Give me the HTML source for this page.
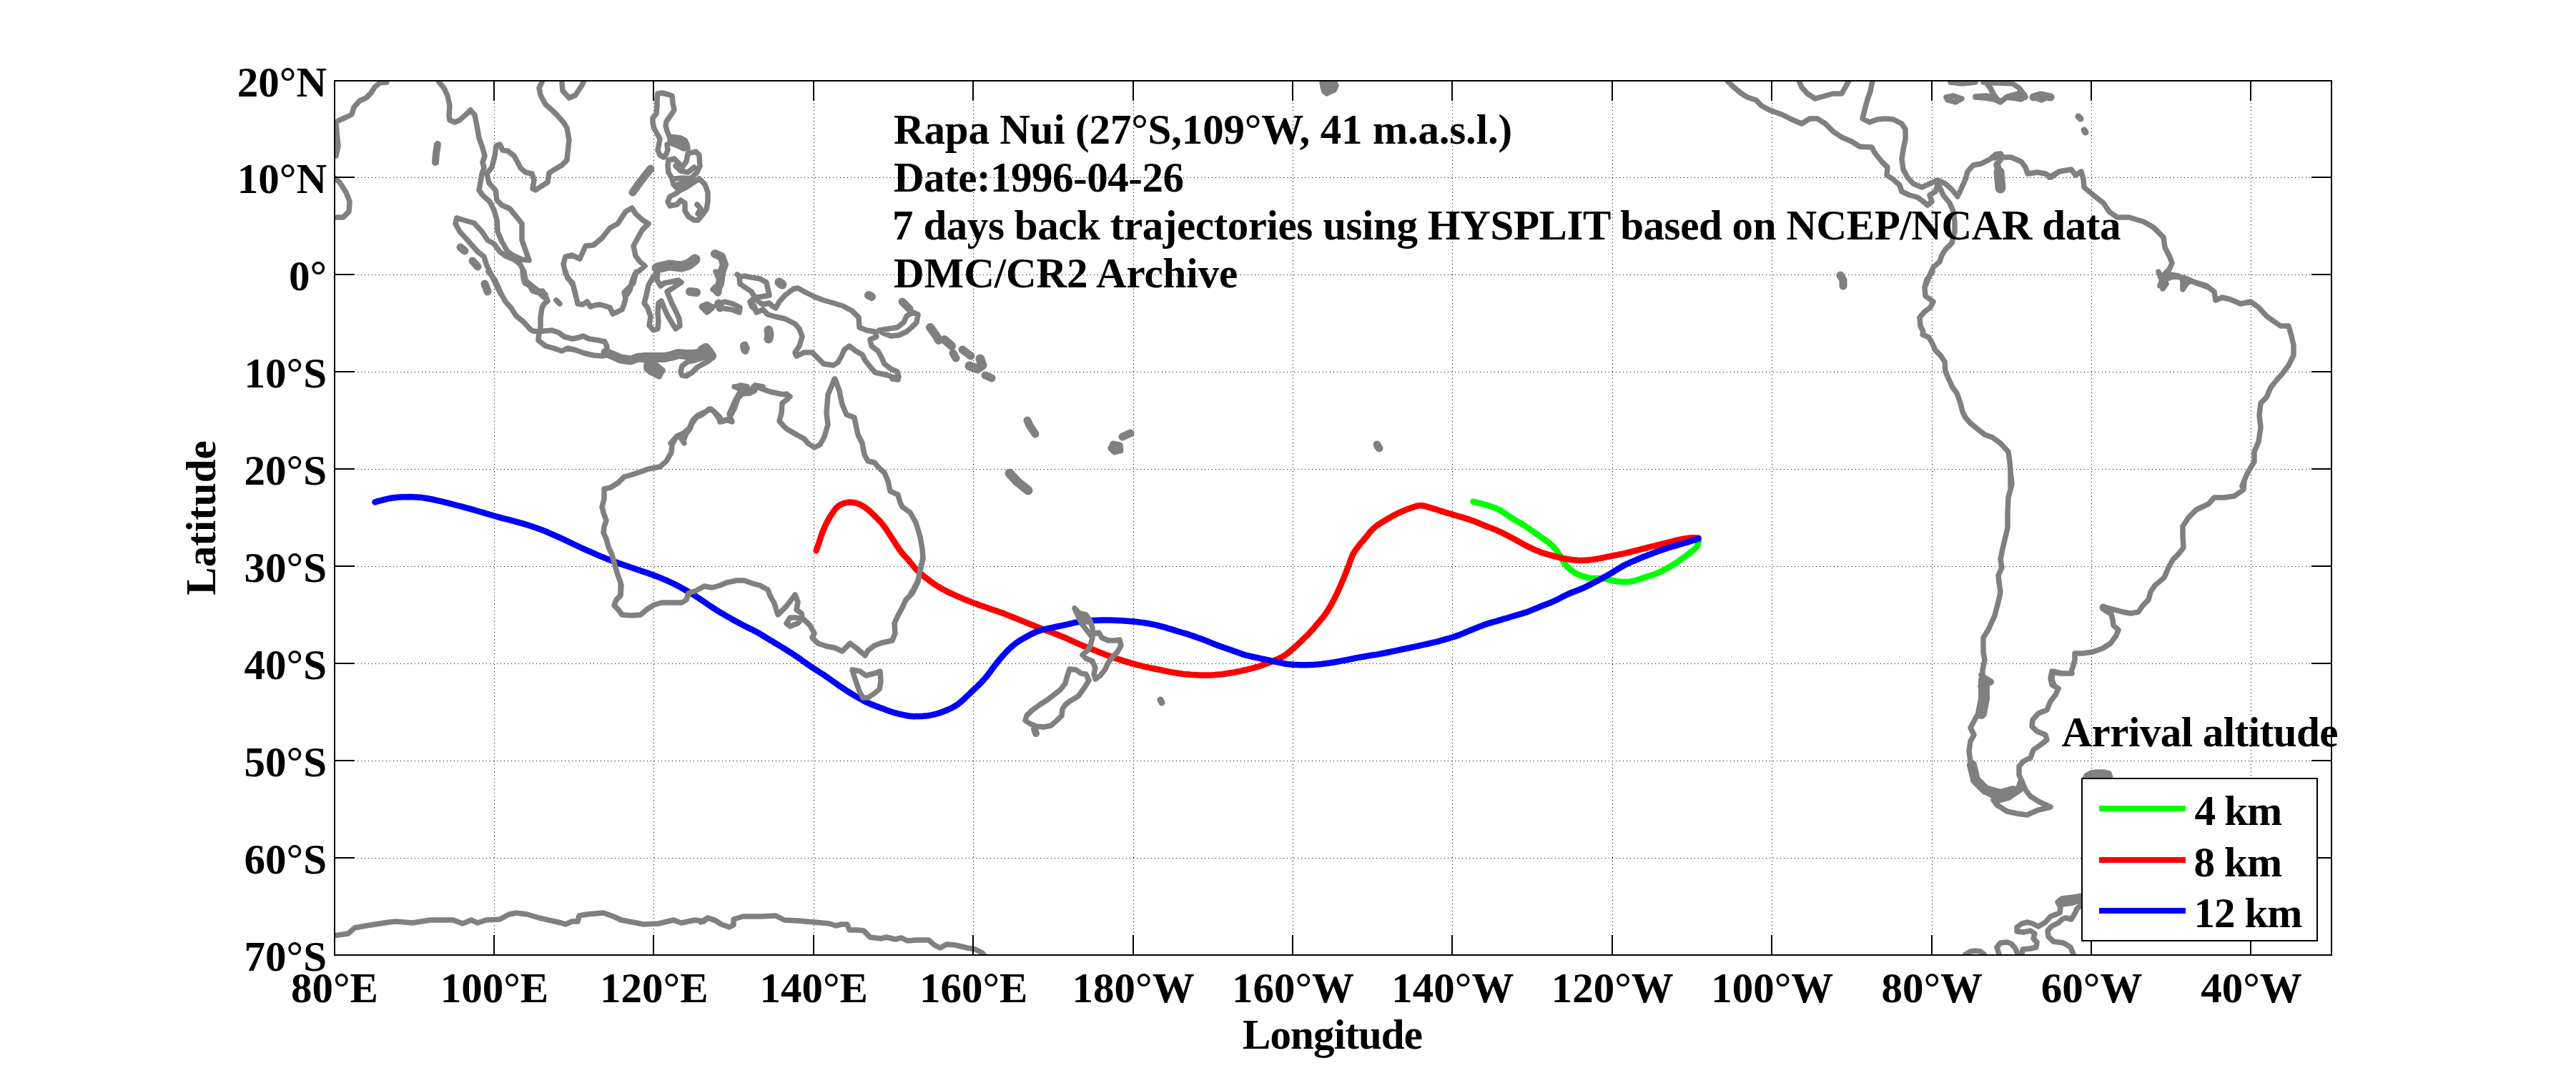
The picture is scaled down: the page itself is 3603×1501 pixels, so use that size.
<!DOCTYPE html><html><head><meta charset="utf-8"><style>html,body{margin:0;padding:0;background:#fff;overflow:hidden}</style></head><body><svg width="3603" height="1501" viewBox="0 0 3603 1501" style="display:block"><rect width="3603" height="1501" fill="#fff"/><defs><clipPath id="ax"><rect x="468" y="113" width="2793" height="1223"/></clipPath></defs><path d="M691.5 114V1335 M914.5 114V1335 M1138.5 114V1335 M1361.5 114V1335 M1585.5 114V1335 M1808.5 114V1335 M2031.5 114V1335 M2255.5 114V1335 M2478.5 114V1335 M2702.5 114V1335 M2925.5 114V1335 M3148.5 114V1335 M470 248.5H3260 M470 384.5H3260 M470 520.5H3260 M470 656.5H3260 M470 792.5H3260 M470 928.5H3260 M470 1064.5H3260 M470 1200.5H3260" stroke="#000" stroke-width="1" stroke-dasharray="1 4" fill="none"/><g clip-path="url(#ax)"><path d="M2060.5 701.7 2062.1 702.1 2064.4 702.6 2067.1 703.3 2070.1 704.0 2073.1 704.8 2076.1 705.7 2079.2 706.6 2082.4 707.5 2085.7 708.5 2089.0 709.7 2092.4 711.0 2095.7 712.5 2099.0 714.3 2102.2 716.3 2105.5 718.6 2108.8 720.8 2112.0 723.1 2115.3 725.2 2118.5 727.2 2121.8 729.1 2125.1 731.0 2128.3 732.9 2131.6 734.9 2134.9 737.0 2138.2 739.2 2141.5 741.5 2144.9 743.8 2148.2 746.2 2151.4 748.5 2154.4 750.7 2157.3 752.7 2160.2 754.7 2162.9 756.7 2165.4 758.6 2167.9 760.5 2170.1 762.4 2172.1 764.3 2173.8 766.2 2175.3 768.0 2176.8 770.0 2178.3 772.0 2179.9 774.2 2181.5 776.6 2183.0 779.2 2184.5 782.0 2186.1 784.7 2187.8 787.4 2189.7 789.8 2191.6 792.1 2193.7 794.2 2195.9 796.2 2198.2 798.1 2200.7 799.9 2203.4 801.6 2206.3 803.0 2209.4 804.4 2212.8 805.7 2216.2 806.7 2219.6 807.7 2222.9 808.4 2226.2 808.9 2229.5 809.1 2232.7 809.1 2236.0 809.1 2239.2 809.1 2242.5 809.4 2245.8 809.9 2249.0 810.6 2252.3 811.4 2255.5 812.2 2258.8 812.8 2262.1 813.3 2265.3 813.6 2268.6 813.8 2271.9 813.9 2275.1 813.9 2278.4 813.7 2281.6 813.3 2284.9 812.7 2288.2 811.8 2291.4 810.8 2294.7 809.7 2297.9 808.5 2301.2 807.4 2304.5 806.4 2307.7 805.4 2311.0 804.3 2314.3 803.2 2317.5 802.0 2320.8 800.6 2324.0 799.0 2327.3 797.4 2330.6 795.6 2333.8 793.8 2337.1 791.8 2340.4 789.8 2343.7 787.7 2347.1 785.4 2350.5 783.0 2353.8 780.6 2357.0 778.3 2359.9 776.1 2362.7 774.0 2365.4 772.0 2367.9 770.0 2370.1 768.1 2372.1 766.2 2373.6 764.4 2374.7 762.5 2375.2 760.6 2375.5 758.7 2375.5 757.0 2375.5 755.6 2375.6 754.6" stroke="#00ff00" stroke-width="8.5" stroke-linejoin="round" stroke-linecap="round" fill="none"/><path d="M1141.7 770.2 1142.2 769.0 1142.8 767.2 1143.5 765.1 1144.2 762.8 1145.0 760.6 1145.7 758.5 1146.3 756.6 1146.9 754.7 1147.5 752.8 1148.1 750.8 1148.8 748.8 1149.6 746.8 1150.4 744.6 1151.3 742.3 1152.3 740.0 1153.3 737.7 1154.3 735.4 1155.4 733.1 1156.6 730.8 1157.8 728.4 1159.1 726.1 1160.4 723.8 1161.8 721.5 1163.3 719.4 1164.7 717.2 1166.2 715.0 1167.8 712.9 1169.4 710.9 1171.2 709.2 1173.1 707.6 1175.1 706.3 1177.3 705.2 1179.7 704.3 1182.0 703.6 1184.4 703.1 1186.8 702.7 1189.1 702.6 1191.4 702.7 1193.7 703.0 1196.0 703.4 1198.3 704.0 1200.5 704.7 1202.5 705.5 1204.5 706.5 1206.5 707.6 1208.4 708.8 1210.3 710.1 1212.2 711.5 1214.2 713.1 1216.1 714.8 1218.1 716.5 1220.0 718.4 1222.0 720.3 1223.9 722.3 1225.9 724.2 1227.9 726.2 1229.8 728.2 1231.8 730.3 1233.7 732.6 1235.7 735.0 1237.6 737.7 1239.6 740.5 1241.6 743.5 1243.5 746.6 1245.5 749.6 1247.4 752.6 1249.4 755.6 1251.3 758.6 1253.3 761.7 1255.3 764.7 1257.2 767.5 1259.2 770.2 1261.1 772.8 1263.1 775.1 1265.0 777.3 1267.0 779.5 1269.0 781.7 1270.9 783.9 1272.8 786.2 1274.8 788.6 1276.7 790.9 1278.6 793.2 1280.6 795.5 1282.7 797.6 1284.8 799.7 1287.1 801.8 1289.4 803.8 1291.7 805.7 1294.1 807.6 1296.4 809.4 1298.6 811.1 1300.9 812.8 1303.1 814.5 1305.3 816.1 1307.7 817.6 1310.1 819.2 1312.5 820.7 1315.0 822.2 1317.5 823.6 1320.1 825.1 1322.9 826.5 1325.7 828.0 1328.7 829.5 1331.9 830.9 1335.3 832.4 1338.6 833.9 1342.0 835.4 1345.3 836.8 1348.5 838.2 1351.8 839.5 1355.1 840.8 1358.3 842.1 1361.6 843.4 1364.9 844.6 1368.1 845.8 1371.4 847.0 1374.6 848.1 1377.9 849.2 1381.2 850.3 1384.4 851.5 1387.7 852.6 1391.0 853.7 1394.2 854.8 1397.5 856.0 1400.7 857.1 1404.0 858.3 1407.3 859.6 1410.5 860.9 1413.8 862.2 1417.0 863.5 1420.3 864.8 1423.6 866.1 1426.8 867.4 1430.1 868.8 1433.4 870.1 1436.6 871.4 1439.9 872.7 1443.1 874.0 1446.6 875.3 1450.1 876.8 1453.7 878.2 1457.1 879.6 1460.2 880.8 1462.7 881.8 1464.4 882.4 1465.4 882.8 1466.1 882.9 1466.7 883.1 1467.7 883.4 1469.4 884.1 1471.9 885.0 1474.9 886.2 1478.3 887.5 1481.9 889.0 1485.4 890.4 1488.8 891.8 1492.1 893.2 1495.3 894.7 1498.5 896.2 1501.8 897.7 1505.0 899.1 1508.2 900.6 1511.5 901.9 1514.7 903.2 1517.9 904.5 1521.2 905.8 1524.4 907.0 1527.6 908.3 1530.9 909.6 1534.1 910.9 1537.3 912.3 1540.6 913.6 1543.8 914.8 1547.0 916.1 1550.3 917.3 1553.5 918.5 1556.8 919.6 1560.0 920.7 1563.2 921.8 1566.5 922.9 1569.7 923.9 1572.9 924.9 1576.2 925.9 1579.4 926.9 1582.6 927.8 1585.9 928.7 1589.1 929.6 1592.3 930.4 1595.6 931.2 1598.8 932.0 1602.0 932.8 1605.3 933.5 1608.5 934.3 1611.7 934.9 1615.0 935.5 1618.2 936.2 1621.5 936.8 1624.7 937.4 1627.9 938.1 1631.2 938.8 1634.4 939.5 1637.6 940.1 1640.9 940.8 1644.1 941.3 1647.3 941.8 1650.6 942.3 1653.8 942.7 1657.0 943.0 1660.3 943.3 1663.5 943.6 1666.7 943.9 1670.0 944.1 1673.2 944.3 1676.4 944.5 1679.7 944.6 1682.9 944.6 1686.2 944.6 1689.4 944.5 1692.6 944.4 1695.9 944.3 1699.1 944.1 1702.3 943.8 1705.6 943.5 1708.8 943.2 1712.0 942.8 1715.3 942.3 1718.5 941.8 1721.7 941.3 1725.0 940.8 1728.2 940.2 1731.4 939.5 1734.7 938.9 1737.9 938.2 1741.1 937.4 1744.4 936.7 1747.6 935.9 1750.9 935.0 1754.1 934.1 1757.3 933.2 1760.6 932.2 1763.8 931.1 1767.0 930.0 1770.3 928.8 1773.5 927.5 1776.7 926.2 1780.0 924.8 1783.1 923.5 1786.0 922.4 1789.0 921.2 1792.1 919.7 1795.5 917.8 1799.4 915.1 1804.0 911.4 1809.2 906.8 1814.7 901.8 1820.2 896.6 1825.2 891.8 1829.4 887.7 1832.6 884.3 1835.3 881.4 1837.5 878.9 1839.4 876.5 1841.2 874.3 1843.1 872.0 1844.9 869.9 1846.6 868.0 1848.2 866.1 1849.7 864.3 1851.3 862.4 1852.8 860.3 1854.5 857.9 1856.2 855.3 1857.9 852.7 1859.5 850.0 1861.1 847.3 1862.6 844.6 1864.0 842.0 1865.4 839.5 1866.7 836.9 1867.9 834.3 1869.2 831.7 1870.5 829.0 1871.8 826.2 1873.1 823.3 1874.4 820.4 1875.7 817.4 1877.0 814.4 1878.3 811.3 1879.6 808.1 1881.0 804.8 1882.3 801.4 1883.6 798.1 1884.9 794.8 1886.1 791.8 1887.2 788.9 1888.1 786.1 1889.0 783.5 1890.0 780.9 1890.9 778.5 1892.0 776.1 1893.2 773.9 1894.4 771.9 1895.7 770.0 1897.0 768.1 1898.4 766.3 1899.8 764.4 1901.3 762.4 1902.9 760.5 1904.5 758.6 1906.1 756.7 1907.8 754.7 1909.6 752.6 1911.4 750.4 1913.2 748.1 1915.1 745.7 1917.1 743.3 1919.1 741.1 1921.3 738.9 1923.7 737.0 1926.1 735.1 1928.7 733.4 1931.3 731.6 1934.1 729.9 1937.0 728.2 1940.0 726.3 1943.2 724.5 1946.5 722.6 1949.9 720.8 1953.3 719.0 1956.6 717.4 1959.9 715.9 1963.4 714.4 1966.8 713.0 1970.2 711.7 1973.3 710.5 1976.1 709.6 1978.5 708.8 1980.6 708.2 1982.4 707.7 1984.1 707.4 1985.9 707.2 1987.9 707.2 1990.1 707.4 1992.3 707.9 1994.6 708.4 1996.9 709.1 1999.3 709.8 2001.8 710.5 2004.2 711.3 2006.7 712.0 2009.2 712.8 2011.9 713.7 2014.6 714.6 2017.4 715.4 2020.5 716.4 2023.7 717.3 2027.0 718.3 2030.3 719.3 2033.7 720.3 2037.0 721.3 2040.3 722.3 2043.5 723.2 2046.8 724.1 2050.0 725.1 2053.3 726.1 2056.6 727.2 2059.8 728.4 2063.1 729.6 2066.4 731.0 2069.6 732.3 2072.9 733.7 2076.1 735.0 2079.4 736.3 2082.7 737.6 2085.9 738.8 2089.2 740.1 2092.5 741.4 2095.7 742.8 2099.0 744.3 2102.2 745.9 2105.5 747.6 2108.8 749.2 2112.0 750.9 2115.3 752.6 2118.5 754.4 2121.8 756.2 2125.1 758.1 2128.3 759.9 2131.6 761.7 2134.9 763.4 2138.1 765.0 2141.4 766.6 2144.6 768.1 2147.9 769.6 2151.2 770.9 2154.4 772.2 2157.7 773.4 2161.0 774.4 2164.2 775.4 2167.5 776.3 2170.7 777.2 2174.0 778.1 2177.3 778.9 2180.5 779.7 2183.8 780.5 2187.0 781.2 2190.3 781.8 2193.6 782.4 2196.8 782.8 2200.1 783.2 2203.4 783.6 2206.6 783.8 2209.9 783.9 2213.1 783.9 2216.4 783.8 2219.7 783.6 2222.9 783.3 2226.2 782.9 2229.5 782.5 2232.7 782.0 2236.0 781.4 2239.2 780.8 2242.5 780.2 2245.8 779.4 2249.0 778.7 2252.3 778.1 2255.5 777.4 2258.8 776.8 2262.1 776.2 2265.3 775.5 2268.6 774.9 2271.9 774.2 2275.1 773.4 2278.4 772.6 2281.6 771.8 2284.9 770.9 2288.2 770.1 2291.4 769.3 2294.7 768.4 2297.9 767.6 2301.2 766.8 2304.5 766.0 2307.7 765.2 2311.0 764.4 2314.3 763.6 2317.5 762.7 2320.8 761.9 2324.0 761.1 2327.3 760.3 2330.6 759.5 2333.9 758.6 2337.2 757.8 2340.6 756.9 2343.9 756.0 2347.1 755.3 2350.1 754.6 2353.0 754.0 2355.9 753.5 2358.6 753.1 2361.2 752.7 2363.6 752.4 2365.8 752.2 2367.9 752.1 2369.9 752.2 2371.7 752.3 2373.3 752.4 2374.6 752.6 2375.6 752.6" stroke="#ff0000" stroke-width="8.5" stroke-linejoin="round" stroke-linecap="round" fill="none"/><path d="M524.5 702.4 527.1 701.7 530.6 700.7 534.9 699.6 539.5 698.4 544.3 697.3 548.9 696.5 553.6 696.0 558.5 695.6 563.5 695.3 568.6 695.2 573.5 695.1 578.3 695.2 582.6 695.4 586.6 695.7 590.5 696.1 594.6 696.7 599.1 697.5 604.4 698.5 610.5 699.8 617.2 701.3 624.4 703.1 631.8 705.0 639.3 707.0 646.8 708.9 654.0 710.9 661.2 712.9 668.4 715.0 675.9 717.2 683.9 719.5 692.5 722.0 701.8 724.6 711.8 727.2 722.2 729.9 732.9 732.9 743.7 736.2 754.4 739.9 765.4 744.3 776.9 749.3 788.5 754.7 799.7 760.0 810.3 765.0 819.7 769.3 827.4 772.7 833.7 775.4 839.2 777.8 844.8 780.1 851.1 782.6 858.8 785.6 868.5 789.0 879.6 792.8 891.4 796.8 903.3 800.8 914.4 804.7 924.0 808.4 932.1 811.8 939.1 815.0 945.4 818.1 951.3 821.3 957.1 824.5 963.2 828.0 969.6 831.8 976.1 836.0 982.5 840.3 988.7 844.5 994.4 848.4 999.4 851.6 1003.6 854.3 1007.1 856.5 1010.2 858.3 1013.0 859.9 1015.8 861.5 1018.8 863.3 1022.1 865.1 1025.3 867.0 1028.5 868.8 1031.8 870.5 1035.0 872.3 1038.2 874.0 1041.5 875.6 1044.7 877.2 1047.9 878.8 1051.2 880.3 1054.4 882.0 1057.6 883.7 1060.9 885.5 1064.1 887.4 1067.3 889.4 1070.6 891.4 1073.8 893.4 1077.0 895.3 1080.3 897.2 1083.5 899.2 1086.8 901.1 1090.0 903.0 1093.2 905.0 1096.5 907.0 1099.7 909.0 1102.9 911.1 1106.2 913.2 1109.4 915.3 1112.6 917.4 1115.9 919.6 1119.1 921.8 1122.3 924.1 1125.6 926.4 1128.8 928.7 1132.0 930.9 1135.3 933.2 1138.5 935.3 1141.7 937.4 1145.0 939.5 1148.2 941.5 1151.5 943.6 1154.7 945.8 1157.9 948.0 1161.2 950.3 1164.4 952.6 1167.6 954.9 1170.9 957.2 1174.1 959.4 1177.3 961.6 1180.6 963.7 1183.8 965.9 1187.0 968.0 1190.3 970.0 1193.5 972.0 1196.7 973.9 1200.0 975.8 1203.2 977.6 1206.4 979.4 1209.7 981.1 1212.9 982.7 1216.2 984.1 1219.4 985.5 1222.6 986.8 1225.9 988.0 1229.1 989.2 1232.3 990.4 1235.6 991.6 1238.8 992.9 1242.0 994.0 1245.3 995.2 1248.5 996.2 1251.7 997.2 1255.1 998.1 1258.5 999.0 1261.9 999.7 1265.3 1000.4 1268.4 1001.0 1271.1 1001.5 1273.5 1001.8 1275.4 1002.0 1277.1 1002.1 1278.8 1002.2 1280.6 1002.1 1282.8 1002.1 1285.3 1002.0 1288.1 1001.9 1291.0 1001.8 1294.1 1001.5 1297.2 1001.2 1300.3 1000.7 1303.4 1000.1 1306.6 999.4 1309.8 998.5 1313.1 997.6 1316.4 996.5 1319.7 995.3 1322.9 994.0 1326.1 992.6 1329.4 991.2 1332.6 989.5 1335.8 987.7 1339.1 985.6 1342.3 983.1 1345.6 980.4 1348.8 977.4 1352.0 974.4 1355.3 971.2 1358.5 968.1 1361.7 965.1 1365.0 962.0 1368.2 958.9 1371.4 955.7 1374.7 952.3 1377.9 948.7 1381.1 944.8 1384.4 940.5 1387.6 936.1 1390.8 931.7 1394.1 927.5 1397.3 923.5 1400.5 919.7 1403.8 916.0 1407.0 912.5 1410.3 909.1 1413.5 906.0 1416.7 903.1 1420.0 900.5 1423.2 898.2 1426.4 896.0 1429.7 894.1 1432.9 892.3 1436.1 890.5 1439.2 888.8 1442.1 887.2 1445.0 885.8 1448.0 884.4 1451.5 883.1 1455.5 881.7 1460.4 880.4 1466.1 879.1 1472.2 877.8 1478.2 876.5 1483.9 875.4 1488.8 874.3 1492.9 873.4 1496.3 872.6 1499.4 871.9 1502.3 871.2 1505.2 870.6 1508.2 870.1 1511.5 869.6 1514.7 869.2 1517.9 868.9 1521.2 868.6 1524.4 868.4 1527.6 868.1 1530.9 867.9 1534.1 867.8 1537.3 867.7 1540.6 867.6 1543.8 867.6 1547.0 867.6 1550.3 867.6 1553.5 867.6 1556.8 867.7 1560.0 867.8 1563.2 868.0 1566.5 868.1 1569.7 868.3 1572.9 868.5 1576.2 868.7 1579.4 868.9 1582.6 869.2 1585.9 869.5 1589.1 869.8 1592.3 870.2 1595.6 870.6 1598.8 871.0 1602.0 871.5 1605.3 872.0 1608.5 872.6 1611.7 873.3 1615.0 873.9 1618.2 874.7 1621.5 875.5 1624.7 876.3 1627.9 877.2 1631.2 878.1 1634.4 879.1 1637.6 880.1 1640.9 881.1 1644.1 882.1 1647.3 883.1 1650.6 884.0 1653.8 885.0 1657.0 885.9 1660.3 886.9 1663.5 887.9 1666.7 889.0 1670.0 890.1 1673.2 891.2 1676.4 892.4 1679.7 893.5 1682.9 894.7 1686.2 896.0 1689.4 897.3 1692.6 898.6 1695.9 899.9 1699.1 901.2 1702.3 902.5 1705.6 903.7 1708.8 904.8 1712.0 905.9 1715.3 907.1 1718.5 908.2 1721.7 909.3 1725.0 910.4 1728.2 911.6 1731.4 912.8 1734.7 914.0 1737.9 915.1 1741.1 916.1 1744.4 917.0 1747.6 917.7 1750.9 918.5 1754.1 919.2 1757.3 919.8 1760.6 920.5 1763.8 921.3 1767.0 922.0 1770.3 922.7 1773.5 923.4 1776.7 924.1 1780.0 924.8 1783.2 925.5 1786.4 926.2 1789.7 926.9 1792.9 927.6 1796.1 928.2 1799.4 928.7 1802.6 929.1 1805.8 929.5 1809.1 929.8 1812.3 930.0 1815.6 930.1 1818.8 930.2 1822.0 930.3 1825.3 930.3 1828.5 930.2 1831.7 930.0 1835.0 929.9 1838.2 929.7 1841.4 929.4 1844.7 929.2 1847.9 928.9 1851.1 928.5 1854.4 928.1 1857.6 927.7 1860.8 927.3 1864.1 926.7 1867.3 926.2 1870.5 925.6 1873.8 925.0 1877.0 924.4 1880.3 923.8 1883.5 923.2 1886.7 922.5 1890.0 921.8 1893.2 921.2 1896.4 920.5 1899.7 919.9 1902.9 919.3 1906.1 918.8 1909.4 918.2 1912.6 917.6 1915.8 917.0 1918.6 916.6 1920.6 916.3 1922.7 916.0 1925.4 915.6 1929.4 914.9 1935.2 913.8 1943.9 912.0 1955.2 909.6 1967.6 907.0 1980.1 904.3 1991.2 901.9 1999.8 900.0 2005.4 898.7 2009.1 897.9 2011.4 897.3 2013.2 896.8 2014.9 896.2 2017.4 895.5 2020.6 894.6 2023.8 893.7 2027.1 892.8 2030.4 891.8 2033.7 890.7 2037.0 889.6 2040.3 888.4 2043.5 887.2 2046.8 885.8 2050.0 884.5 2053.3 883.1 2056.6 881.8 2059.8 880.5 2063.1 879.1 2066.4 877.8 2069.6 876.4 2072.9 875.2 2076.1 874.0 2079.4 872.9 2082.7 871.9 2085.9 870.9 2089.2 870.0 2092.5 869.1 2095.7 868.1 2099.0 867.1 2102.2 866.1 2105.5 865.2 2108.8 864.2 2112.0 863.2 2115.3 862.2 2118.5 861.3 2121.8 860.3 2125.1 859.4 2128.3 858.5 2131.6 857.4 2134.9 856.4 2138.1 855.2 2141.4 853.9 2144.6 852.6 2147.9 851.2 2151.2 849.9 2154.4 848.5 2157.7 847.2 2161.0 846.0 2164.2 844.7 2167.5 843.5 2170.7 842.1 2174.0 840.7 2177.3 839.2 2180.5 837.5 2183.8 835.8 2187.0 834.1 2190.3 832.5 2193.6 830.9 2196.8 829.5 2200.1 828.2 2203.4 827.0 2206.6 825.8 2209.9 824.5 2213.1 823.1 2216.4 821.6 2219.7 820.0 2222.9 818.4 2226.2 816.7 2229.5 815.0 2232.7 813.3 2236.0 811.6 2239.2 809.8 2242.5 808.0 2245.8 806.2 2249.0 804.4 2252.3 802.5 2255.5 800.6 2258.8 798.6 2262.1 796.5 2265.3 794.5 2268.6 792.6 2271.9 790.8 2275.1 789.1 2278.4 787.6 2281.6 786.1 2284.9 784.7 2288.2 783.4 2291.4 782.0 2294.7 780.6 2297.9 779.3 2301.2 777.9 2304.5 776.7 2307.7 775.4 2311.0 774.2 2314.3 772.9 2317.5 771.8 2320.8 770.6 2324.0 769.5 2327.3 768.4 2330.6 767.3 2333.8 766.3 2337.1 765.3 2340.4 764.3 2343.6 763.4 2346.9 762.4 2350.1 761.4 2353.6 760.4 2357.2 759.3 2360.8 758.3 2364.2 757.2 2367.2 756.3 2369.7 755.6 2371.6 755.0 2372.9 754.5 2373.9 754.2 2374.6 754.0 2375.1 753.8 2375.6 753.6" stroke="#0000ff" stroke-width="8.5" stroke-linejoin="round" stroke-linecap="round" fill="none"/><path d="M541 115 531 116 524 122 519 130 512 137 503 141 495 150 492 160 484 164 475 168 470 171 471 185 473 204 470 218 M468 249 475 255 484 269 489 282 488 296 480 304 470 304 M614 115 621 123 626 134 629 148 628 161 629 168 636 171 643 168 652 160 658 154 664 161 667 176 670 193 675 207 678 218 675 227 677 235 674 243 672 255 670 266 675 273 685 282 691 294 695 308 696 324 702 338 710 352 719 358 730 363 740 364 M740 364 735 350 730 336 730 313 723 304 713 292 702 287 695 280 693 266 684 256 681 243 688 234 692 218 694 204 699 202 703 210 710 211 719 218 724 227 728 235 735 241 744 243 747 252 745 264 749 266 758 260 766 255 768 242 774 238 786 231 793 224 794 213 796 196 793 179 788 171 780 162 772 154 763 146 756 133 754 123 758 115 M786 116 787 127 796 137 805 133 814 119 816 115 M639 305 649 308 663 312 674 324 682 336 691 341 699 352 707 358 719 363 727 369 733 380 735 392 744 400 752 406 763 412 M639 305 637 313 643 324 654 336 668 352 677 359 680 369 685 380 691 392 696 403 701 412 M805 412 802 400 797 392 791 383 788 369 791 359 800 357 811 362 819 344 830 343 842 333 853 319 864 313 875 296 884 291 889 299 899 308 907 313 898 322 892 333 886 344 889 358 895 366 902 372 895 378 888 383 884 394 881 406 877 412 M920 131 926 130 934 132 940 134 941 144 943 154 937 163 932 170 931 176 933 183 936 191 945 192 952 193 958 196 961 202 962 208 956 208 948 204 943 202 937 200 933 202 934 210 931 217 928 220 923 217 920 210 922 200 923 194 919 187 915 180 913 172 913 165 918 159 919 148 919 139 920 131 M937 195 954 198 958 204 M935 224 943 222 949 228 954 234 960 226 962 215 973 212 978 217 979 232 975 241 967 249 960 250 954 258 948 264 942 258 940 250 935 241 934 232 935 224 M945 232 952 239 962 241 971 234 M943 250 956 249 965 250 M948 258 962 254 M978 250 986 258 990 269 990 282 988 293 982 301 976 308 971 308 963 303 958 295 958 284 952 280 947 286 937 288 934 282 937 275 945 271 950 267 960 262 969 256 978 250 M975 286 980 292 976 299 M683 380 692 391 696 400 701 411 707 422 715 431 722 442 732 450 741 460 745 463 754 464 M731 380 732 389 734 396 741 400 745 407 751 409 759 407 763 414 766 421 761 425 758 431 756 445 756 456 755 464 M750 406 761 416 M754 464 761 463 772 462 781 465 789 471 801 474 810 472 815 470 824 474 837 476 846 478 849 485 848 494 M754 465 753 476 763 484 774 487 786 491 794 487 806 490 817 494 830 497 842 498 848 497 M791 380 794 389 801 396 803 405 806 416 808 425 815 426 821 422 826 429 832 427 839 426 846 428 853 430 857 439 864 436 870 433 873 425 875 418 873 409 880 402 886 396 888 387 890 380 M677 400 683 407 M778 420 783 425 M1002 427 1014 422 1025 425 1035 430 1034 437 1023 433 1009 431 1002 427 M997 405 1006 406 M1001 380 1005 389 1009 397 M1039 483 1045 487 1043 492 M938 620 947 610 956 606 964 599 969 588 976 581 985 577 994 572 1000 577 1007 584 1009 590 1016 588 1023 589 1020 579 1025 568 1029 559 1034 550 1036 546 1029 541 1036 539 1045 541 1043 548 1050 546 1056 539 1067 541 M1035 397 1045 404 1051 408 1058 420 1067 426 1076 424 1080 428 1085 431 1090 422 1098 413 1110 404 1116 403 1125 408 1139 415 1152 420 1166 424 1179 428 1192 435 1201 444 1202 458 1212 462 1224 464 1226 471 1217 475 1219 484 1228 491 1233 500 1237 509 1246 516 1255 520 1257 527 1250 528 1242 525 1224 521 1217 513 1210 504 1206 496 1197 491 1188 484 1181 489 1177 498 1172 507 1166 511 1152 509 1143 500 1136 493 1125 493 1114 498 1112 493 1118 484 1122 471 1118 460 1112 453 1098 446 1085 443 1074 440 1067 433 1058 437 1055 428 1049 422 M1035 397 1034 388 1041 386 1051 388 1063 390 1072 395 1074 404 1076 413 1065 415 1056 416 1049 422 1051 428 1058 435 M1034 386 1031 384 M1230 462 1242 460 1255 458 1264 451 1268 442 1277 437 1284 440 1282 451 1275 458 1268 464 1257 469 1246 470 1235 466 1230 462 M868 830 868 815 863 801 859 787 856 776 851 765 848 754 844 745 845 737 848 728 844 717 842 709 845 698 845 684 854 682 865 675 873 667 884 664 896 660 907 656 923 653 932 645 939 633 940 622 946 611 954 608 957 614 960 606 965 600 968 592 974 584 982 580 992 572 999 576 1006 586 1007 590 1016 587 1024 590 1021 583 1027 572 1032 557 1038 551 1049 550 1055 547 1058 541 1066 544 1077 548 1091 551 1100 552 1102 558 1094 564 1093 578 1090 589 1097 597 1102 601 1114 608 1125 614 1130 620 1139 626 1147 622 1153 611 1158 594 1156 578 1158 552 1164 538 1167 530 M1168 530 1174 547 1178 566 1184 580 1195 584 1197 594 1200 608 1206 620 1209 636 1214 645 1223 647 1231 656 1237 661 1242 673 1245 687 1256 692 1259 703 1262 709 1273 717 1281 731 1287 751 1290 768 1291 782 1287 798 1284 812 1278 824 1274 830 M1027 541 1044 541 M951 611 957 620 M1100 551 1105 555 M1248 530 1256 531 M869 819 868 833 862 839 859 847 865 853 870 860 884 861 896 860 904 853 915 846 926 843 940 843 954 843 960 839 963 830 974 826 985 820 996 822 1007 819 1016 815 1030 812 1041 812 1052 816 1063 819 1074 825 1077 833 1083 844 1088 860 1100 848 1112 832 1116 842 1114 853 1121 858 1122 864 1116 872 1105 876 1100 872 1105 864 1114 864 1125 867 1133 875 1139 886 1136 892 1144 900 1156 904 1167 906 1178 911 1189 900 1197 906 1203 911 1210 917 1214 910 1223 903 1234 899 1248 896 1252 886 1251 872 1256 861 1262 850 1267 839 1276 830 1284 814 1287 797 1291 780 M1192 937 1203 939 1211 945 1223 942 1231 939 1232 953 1230 964 1223 970 1214 976 1207 976 1202 967 1196 950 1192 937 M1503 851 1510 858 1519 860 1525 869 1528 878 1528 887 1537 885 1541 892 1550 896 1559 896 1566 895 1568 903 1563 912 1557 918 1550 927 1546 936 1539 945 1532 950 1530 943 1532 934 1528 925 1519 921 1514 916 1521 910 1525 903 1528 892 1521 883 1514 874 1508 862 1503 851 M1514 865 1521 870 M1496 936 1505 937 1512 942 1519 943 1523 952 1516 963 1508 974 1503 977 1496 981 1490 986 1486 992 1485 1001 1478 1008 1470 1015 1460 1017 1449 1016 1440 1012 1434 1008 1436 1001 1443 994 1454 986 1465 979 1474 972 1483 965 1490 956 1492 948 1496 936 M2416 113 2425 122 2436 131 2444 136 2456 140 2464 148 2475 154 2492 160 2506 167 2520 173 2531 166 2542 166 2553 173 2564 184 2576 192 2590 198 2601 205 2618 206 2623 215 2632 226 2640 234 2639 245 2648 251 2657 259 2660 268 2671 273 2682 276 2690 282 2696 287 2702 282 2699 273 2707 268 2710 259 M2710 259 2713 262 2718 273 2727 284 2732 296 2734 310 2734 324 2730 340 2721 349 2716 357 2713 366 2704 374 2699 385 2693 400 M2516 113 2520 122 2528 131 2539 138 2553 134 2564 131 2576 131 2581 122 2586 113 M2619 113 2616 128 2612 139 2609 150 2605 166 2615 171 2626 167 2637 166 2648 167 2660 173 2665 181 2665 195 2662 209 2660 223 2662 237 2668 248 2676 257 2688 262 2699 257 2710 252 2721 257 2730 265 2738 275 2744 262 2749 251 2752 240 2760 231 2771 229 2783 223 2791 216 2798 215 2801 220 2794 229 2797 240 2798 257 2797 264 M2801 220 2813 220 2827 226 2833 234 2836 243 2850 241 2861 243 2869 248 2880 240 M2728 115 2744 117 2763 115 M2722 136 2732 134 2744 138 2735 143 2724 140 2722 136 M2777 114 2785 125 2788 136 2799 142 2808 135 2822 131 2833 136 M2763 135 2777 134 2788 136 M2844 136 2855 134 2864 136 2855 140 2844 136 M2866 248 2880 240 2897 237 2903 245 2911 240 2914 251 2915 262 2928 273 2942 284 2950 296 2961 304 2978 304 2998 310 3012 318 3026 332 3028 346 3035 360 3038 368 3034 377 3026 385 3021 400 M3028 391 3040 387 3054 388 3068 394 3087 400 M2703 380 2695 391 2692 402 2693 414 2700 419 2704 422 2700 430 2692 436 2685 444 2686 456 2690 464 2689 468 2698 472 2703 481 2707 490 2714 497 2720 506 2721 520 2726 531 2731 542 2737 550 2742 564 2745 576 2749 584 2756 592 2767 601 2776 608 2787 612 2798 620 2809 632 2811 646 2812 660 2812 680 M3019 380 3023 391 3025 404 3030 397 3027 388 3036 384 3047 386 3053 391 3053 405 3058 397 3064 393 3075 397 3089 402 3097 408 3099 420 3108 416 3120 419 3134 425 3148 422 3159 430 3170 442 3181 450 3190 456 3201 456 3205 470 3208 483 3208 497 3201 511 3192 523 3184 532 3176 542 3170 556 3162 564 3160 581 3162 598 3159 618 3153 632 3153 646 3148 654 3142 665 3136 680 M2812 660 2814 677 2809 696 2808 716 2808 738 2804 755 2800 772 2798 783 2800 794 2795 805 2797 822 2798 828 2795 842 2790 861 2781 881 2774 892 2774 912 2776 923 2773 937 2773 951 2770 960 M3139 674 3138 685 3125 694 3111 696 3097 696 3089 705 3072 713 3061 724 3053 736 3053 750 3054 766 3047 775 3039 783 3033 794 3027 808 3014 819 3008 828 3005 839 2997 847 2991 856 2980 858 2969 856 2958 853 2946 850 2944 853 2952 856 2955 867 2956 875 2963 881 2960 889 2952 900 2941 907 2927 912 2913 914 2902 914 2902 923 2899 934 2896 942 2882 942 2871 940 2870 951 2874 960 M2771 944 2775 953 2775 977 2770 993 2763 1005 2756 1018 2761 1028 2756 1037 2754 1051 2756 1065 2758 1079 2763 1093 2770 1102 2784 1112 2798 1116 2812 1114 2821 1107 2826 1093 M2898 942 2884 942 2870 939 2868 949 2870 958 2879 963 2875 972 2868 981 2863 993 2851 998 2843 1007 2842 1016 2849 1023 2861 1028 2863 1035 2854 1042 2844 1049 2840 1060 2830 1065 2824 1072 2824 1084 2828 1093 M2828 1093 2833 1105 2840 1114 2851 1121 2868 1129 2851 1133 2835 1140 2821 1138 2807 1135 2793 1126 2788 1119 M2793 1121 2810 1116 2826 1105 M466 1309 487 1306 496 1298 512 1295 544 1290 554 1289 577 1291 602 1287 634 1287 647 1292 659 1287 668 1291 680 1287 699 1286 712 1279 722 1277 737 1279 754 1284 785 1291 791 1293 800 1289 808 1289 810 1281 821 1279 844 1277 858 1282 869 1287 890 1291 900 1293 921 1292 942 1287 953 1291 972 1287 984 1289 990 1284 1000 1287 M980 1290 990 1284 1001 1288 1009 1293 1020 1297 1026 1294 1026 1286 1039 1282 1064 1282 1085 1281 1097 1287 1116 1288 1139 1290 1160 1292 1169 1295 1177 1293 1185 1293 1188 1301 1200 1301 1208 1302 1217 1311 1232 1313 1240 1311 1252 1314 1261 1312 1269 1316 1282 1315 1299 1315 1307 1322 1315 1326 1324 1321 1336 1322 1353 1326 1364 1328 1374 1333 1377 1337 M2749 1335 2756 1331 2763 1330 2770 1331 2775 1335 M2796 1335 2793 1325 2798 1319 2807 1318 2813 1320 2819 1327 2822 1335 M2828 1335 2829 1328 2840 1327 2848 1325 2849 1318 2844 1313 2846 1306 2840 1302 2830 1304 2821 1303 2821 1297 2828 1292 2836 1290 2843 1292 2851 1296 2861 1290 2868 1282 2881 1277 2882 1269 2878 1262 2884 1257 2892 1256 2900 1255 2907 1254 2911 1253 M2900 1335 2896 1325 2886 1319 2872 1317 2865 1310 2864 1302 2869 1296 2879 1291 2884 1286 2889 1284 2897 1286 2902 1278 2905 1271 2910 1267 2911 1265 M954 512 962 506 972 504 982 501 991 497 996 500 991 505 982 510 975 514 968 521 960 526 954 525 952 520 954 512 M920 379 912 390 907 399 904 413 901 424 906 431 910 443 908 455 914 462 920 460 921 450 920 438 921 424 925 421 929 431 934 442 940 452 945 460 951 456 950 446 945 435 940 425 935 413 933 408 941 403 953 395 949 392 940 394 929 396 924 400 919 392 920 379 M2774 115 2794 116 2815 117 2824 123 2831 132 2833 135 2827 139 2815 137 2806 136 2798 143 2789 139 2776 137 2763 136 M2777 115 2784 123 2789 133 2794 139 M2789 221 2797 217 2801 220 2797 224 2792 230 2794 239" stroke="#808080" stroke-width="7.5" stroke-linejoin="round" stroke-linecap="round" fill="none"/><path d="M982 429 989 426 996 430 989 436 982 429 M1557 621 1566 623 1567 630 1559 632 1554 627 1557 621 M1623 979 1625 983 M2907 163 2910 166 M2915 182 2917 185 M1042 482 1042 491" stroke="#808080" stroke-width="9" stroke-linejoin="round" stroke-linecap="round" fill="none"/><path d="M612 202 610 215 609 227 M1447 1020 1449 1026 M2779 951 2784 954 M2882 1264 2898 1262 2910 1258" stroke="#808080" stroke-width="10" stroke-linejoin="round" stroke-linecap="round" fill="none"/><path d="M644 346 650 351 M661 365 668 373 M678 397 682 408 M885 269 895 255 910 236 M1262 422 1272 432 M1333 494 1337 501 M1346 489 1358 498 M1378 525 1387 529 M1437 588 1440 595 1448 607 M1570 611 1581 606 M1926 622 1929 627 M2574 385 2578 392 2578 400 M2942 850 2951 856 M1001 403 1004 409 M1005 424 1007 431 M2868 136 2854 133 2844 136" stroke="#808080" stroke-width="11" stroke-linejoin="round" stroke-linecap="round" fill="none"/><path d="M965 408 974 409 M1301 458 1309 469 1313 476 M1321 475 1331 484 M1215 413 1219 415 M1041 484 1042 489 M1000 355 1009 359 1013 370 1009 381 1007 397 1002 406" stroke="#808080" stroke-width="12" stroke-linejoin="round" stroke-linecap="round" fill="none"/><path d="M847 493 857 497 868 502 882 504 893 500 904 501 M1356 512 1367 516 1374 511 1371 502 M1090 395 1094 398 M1075 462 1076 468 1075 474 M1412 662 1423 674 1438 686" stroke="#808080" stroke-width="13" stroke-linejoin="round" stroke-linecap="round" fill="none"/><path d="M2758 1070 2763 1091 2777 1105 2798 1111 2816 1106 M900 500 910 500 920 500 929 500 939 498 949 495 959 496 968 496 978 495 985 492 M982 490 987 487 991 492 995 498" stroke="#808080" stroke-width="14" stroke-linejoin="round" stroke-linecap="round" fill="none"/><path d="M919 375 936 371 953 373 963 370 972 363 M2796 241 2797 253 2798 263" stroke="#808080" stroke-width="15" stroke-linejoin="round" stroke-linecap="round" fill="none"/><path d="M2775 952 2775 977 2771 998" stroke="#808080" stroke-width="16" stroke-linejoin="round" stroke-linecap="round" fill="none"/><path d="M2916 1091 2918 1085 2925 1081 2933 1080 2942 1080 2950 1082 2953 1091Z M904 510 916 509 927 518 922 527 910 521 904 516 904 510Z M1849 115 1856 114 1858 118 1861 114 1867 115 1869 120 1866 126 1859 129 1856 131 1852 128 1850 121Z" stroke="#808080" stroke-width="7.5" stroke-linejoin="round" fill="#808080"/></g><path d="M691 1336V1308 M691 113V141 M914 1336V1308 M914 113V141 M1138 1336V1308 M1138 113V141 M1361 1336V1308 M1361 113V141 M1585 1336V1308 M1585 113V141 M1808 1336V1308 M1808 113V141 M2031 1336V1308 M2031 113V141 M2255 1336V1308 M2255 113V141 M2478 1336V1308 M2478 113V141 M2702 1336V1308 M2702 113V141 M2925 1336V1308 M2925 113V141 M3148 1336V1308 M3148 113V141 M468 248H496 M3261 248H3233 M468 384H496 M3261 384H3233 M468 520H496 M3261 520H3233 M468 656H496 M3261 656H3233 M468 792H496 M3261 792H3233 M468 928H496 M3261 928H3233 M468 1064H496 M3261 1064H3233 M468 1200H496 M3261 1200H3233" stroke="#000" stroke-width="2" fill="none"/><rect x="468" y="113" width="2793" height="1223" stroke="#000" stroke-width="2" fill="none"/><g font-family="Liberation Serif" font-weight="bold" font-size="59" fill="#000"><text x="468.0" y="1402.0" text-anchor="middle">80°E</text><text x="691.4" y="1402.0" text-anchor="middle">100°E</text><text x="914.8" y="1402.0" text-anchor="middle">120°E</text><text x="1138.2" y="1402.0" text-anchor="middle">140°E</text><text x="1361.7" y="1402.0" text-anchor="middle">160°E</text><text x="1585.1" y="1402.0" text-anchor="middle">180°W</text><text x="1808.5" y="1402.0" text-anchor="middle">160°W</text><text x="2031.9" y="1402.0" text-anchor="middle">140°W</text><text x="2255.3" y="1402.0" text-anchor="middle">120°W</text><text x="2478.7" y="1402.0" text-anchor="middle">100°W</text><text x="2702.2" y="1402.0" text-anchor="middle">80°W</text><text x="2925.6" y="1402.0" text-anchor="middle">60°W</text><text x="3149.0" y="1402.0" text-anchor="middle">40°W</text><text x="457.0" y="134.5" text-anchor="end">20°N</text><text x="457.0" y="270.4" text-anchor="end">10°N</text><text x="457.0" y="406.3" text-anchor="end">0°</text><text x="457.0" y="542.2" text-anchor="end">10°S</text><text x="457.0" y="678.1" text-anchor="end">20°S</text><text x="457.0" y="813.9" text-anchor="end">30°S</text><text x="457.0" y="949.8" text-anchor="end">40°S</text><text x="457.0" y="1085.7" text-anchor="end">50°S</text><text x="457.0" y="1221.6" text-anchor="end">60°S</text><text x="457.0" y="1357.5" text-anchor="end">70°S</text><text x="1864.0" y="1467.0" text-anchor="middle" textLength="252.0" lengthAdjust="spacing">Longitude</text><text x="1250.0" y="201.0" text-anchor="start" textLength="865.1" lengthAdjust="spacing">Rapa Nui (27°S,109°W, 41 m.a.s.l.)</text><text x="1250.0" y="268.0" text-anchor="start" textLength="405.9" lengthAdjust="spacing">Date:1996-04-26</text><text x="1248.0" y="335.0" text-anchor="start" textLength="1718.5" lengthAdjust="spacing">7 days back trajectories using HYSPLIT based on NCEP/NCAR data</text><text x="1250.0" y="402.0" text-anchor="start" textLength="481.3" lengthAdjust="spacing">DMC/CR2 Archive</text><text transform="translate(301 724.5) rotate(-90)" text-anchor="middle">Latitude</text></g><rect x="2912" y="1089" width="329" height="227" fill="#fff" stroke="#000" stroke-width="2"/><path d="M2936 1131H3057" stroke="#00ff00" stroke-width="8"/><path d="M2936 1203H3057" stroke="#ff0000" stroke-width="8"/><path d="M2936 1274H3057" stroke="#0000ff" stroke-width="8"/><g font-family="Liberation Serif" font-weight="bold" font-size="59" fill="#000"><text x="2883.5" y="1044.0" text-anchor="start" textLength="387.0" lengthAdjust="spacing">Arrival altitude</text><text x="3069.6" y="1154.0" text-anchor="start" textLength="122.5" lengthAdjust="spacing">4 km</text><text x="3068.6" y="1225.5" text-anchor="start" textLength="123.5" lengthAdjust="spacing">8 km</text><text x="3068.4" y="1297.0" text-anchor="start" textLength="152.1" lengthAdjust="spacing">12 km</text></g></svg></body></html>
